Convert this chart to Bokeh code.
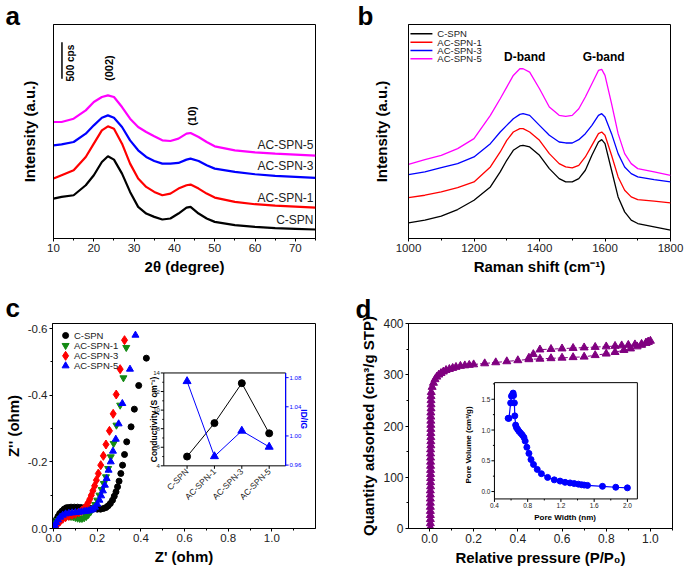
import math
from bokeh.plotting import figure
from bokeh.layouts import column, row
from bokeh.models import Range1d, SingleIntervalTicker, FixedTicker, PrintfTickFormatter
from bokeh.core.properties import value
from bokeh.embed import file_html
from bokeh.resources import INLINE

FONT = "Liberation Sans"
TICK_COLOR = "#222222"

# ---------------- data: (a) XRD ----------------
xrd_2theta = [10, 12, 15, 18, 20, 22, 23.5, 25, 27, 29, 31, 33, 35, 37, 39, 41, 43, 44, 46, 48, 50, 55, 60, 65, 70, 75]
xrd_cspn = [120, 125, 130, 160, 190, 230, 247, 237, 195, 140, 95, 75, 65, 57, 60, 75, 93, 95, 75, 60, 50, 40, 35, 31, 29, 27]
xrd_ac1 = [180, 190, 205, 245, 285, 325, 337, 330, 285, 225, 180, 155, 140, 130, 135, 150, 160, 162, 150, 135, 123, 110, 103, 99, 96, 93]
xrd_ac3 = [280, 283, 290, 315, 340, 363, 370, 363, 335, 295, 265, 245, 233, 225, 225, 227, 237, 240, 233, 220, 210, 200, 193, 188, 185, 182]
xrd_ac5 = [350, 350, 360, 385, 410, 425, 430, 425, 395, 360, 335, 320, 307, 295, 293, 300, 315, 317, 305, 290, 277, 265, 259, 255, 252, 249]
sample_names = ["C-SPN", "AC-SPN-1", "AC-SPN-3", "AC-SPN-5"]
xrd_label_y = [55, 123, 218, 280]
xrd_peak_names = ["(002)", "(10)"]
xrd_peak_x = [23.7, 44.4]
xrd_peak_y = [512, 368]

# ---------------- data: (b) Raman ----------------
raman_shift = [1000, 1050, 1100, 1150, 1200, 1250, 1280, 1300, 1320, 1340, 1350, 1370, 1400, 1430, 1460,
               1480, 1500, 1520, 1540, 1560, 1580, 1590, 1600, 1620, 1640, 1660, 1680, 1700, 1750, 1800]
raman_cspn = [47, 55, 67, 87, 115, 155, 200, 235, 265, 278, 280, 275, 250, 210, 180, 170, 170, 180, 205, 250, 290, 297, 285, 205, 125, 80, 55, 45, 35, 25]
raman_ac1 = [123, 130, 140, 153, 170, 215, 260, 295, 320, 330, 330, 320, 295, 255, 225, 215, 212, 220, 245, 280, 315, 320, 310, 250, 185, 145, 125, 117, 112, 107]
raman_ac3 = [192, 200, 213, 225, 245, 285, 320, 340, 360, 373, 375, 370, 340, 310, 290, 287, 287, 297, 315, 340, 370, 375, 365, 315, 255, 215, 195, 185, 177, 170]
raman_ac5 = [223, 237, 250, 270, 300, 370, 420, 455, 490, 510, 510, 500, 450, 395, 370, 367, 370, 390, 425, 465, 505, 508, 490, 405, 315, 255, 225, 210, 200, 190]
band_names = ["D-band", "G-band"]
band_x = [1355, 1596]
band_y = [545, 545]

# ---------------- data: (c) Nyquist ----------------
cspn_zr = [0.001, 0.003, 0.007, 0.013, 0.020, 0.028, 0.038, 0.048, 0.058, 0.068, 0.080, 0.095, 0.110, 0.125, 0.140,
           0.155, 0.170, 0.185, 0.200, 0.215, 0.228, 0.240, 0.250, 0.260, 0.270, 0.278, 0.286, 0.293, 0.300, 0.308,
           0.316, 0.325, 0.335, 0.355, 0.370, 0.390, 0.425]
cspn_zi = [-0.002, -0.008, -0.017, -0.027, -0.036, -0.045, -0.052, -0.058, -0.062, -0.063, -0.064, -0.064, -0.064, -0.063, -0.062,
           -0.061, -0.060, -0.059, -0.058, -0.058, -0.060, -0.063, -0.068, -0.075, -0.085, -0.097, -0.110, -0.125, -0.142, -0.165,
           -0.190, -0.222, -0.260, -0.305, -0.358, -0.429, -0.511]
ac1_zr = [0.002, 0.006, 0.012, 0.020, 0.030, 0.040, 0.050, 0.060, 0.070, 0.080, 0.090, 0.100, 0.110, 0.120, 0.130,
          0.140, 0.150, 0.160, 0.170, 0.180, 0.190, 0.200, 0.210, 0.220, 0.230, 0.240, 0.250, 0.262, 0.275, 0.288,
          0.305, 0.320, 0.333]
ac1_zi = [-0.004, -0.010, -0.017, -0.024, -0.030, -0.034, -0.036, -0.037, -0.037, -0.036, -0.035, -0.033, -0.031, -0.030, -0.030,
          -0.032, -0.036, -0.042, -0.050, -0.060, -0.072, -0.085, -0.100, -0.117, -0.135, -0.155, -0.180, -0.215, -0.255, -0.310,
          -0.370, -0.452, -0.543]
ac3_zr = [0.002, 0.006, 0.012, 0.020, 0.030, 0.042, 0.055, 0.070, 0.085, 0.100, 0.115, 0.128, 0.140, 0.150, 0.158,
          0.166, 0.173, 0.180, 0.188, 0.196, 0.205, 0.216, 0.228, 0.240, 0.256, 0.273, 0.287, 0.305, 0.325]
ac3_zi = [-0.001, -0.004, -0.009, -0.015, -0.022, -0.029, -0.034, -0.038, -0.041, -0.044, -0.048, -0.053, -0.060, -0.068, -0.077,
          -0.088, -0.100, -0.113, -0.128, -0.145, -0.165, -0.190, -0.218, -0.252, -0.293, -0.344, -0.402, -0.478, -0.565]
ac5_zr = [0.002, 0.006, 0.012, 0.020, 0.030, 0.042, 0.055, 0.070, 0.085, 0.100, 0.115, 0.128, 0.140, 0.150, 0.160,
          0.170, 0.180, 0.190, 0.200, 0.210, 0.218, 0.226, 0.235, 0.243, 0.252, 0.262, 0.272, 0.285, 0.298, 0.315,
          0.350, 0.375]
ac5_zi = [-0.004, -0.010, -0.018, -0.026, -0.034, -0.040, -0.044, -0.046, -0.047, -0.048, -0.049, -0.050, -0.051, -0.052, -0.053,
          -0.055, -0.058, -0.064, -0.073, -0.085, -0.098, -0.113, -0.130, -0.150, -0.175, -0.200, -0.232, -0.268, -0.314, -0.375,
          -0.478, -0.580]

# inset (c): conductivity and ID/IG
inset_cats = ["C-SPN", "AC-SPN-1", "AC-SPN-3", "AC-SPN-5"]
inset_cat_pos = [0, 1, 2, 3]
conductivity = [5.0, 8.6, 12.9, 7.5]
id_ig = [1.075, 0.972, 1.007, 0.985]
cond_ticks = [4, 6, 8, 10, 12, 14]
cond_minor = [5, 7, 9, 11, 13]
idig_ticks = [0.96, 1.00, 1.04, 1.08]
idig_tick_labels = ["0.96", "1.00", "1.04", "1.08"]

# ---------------- data: (d) N2 isotherm ----------------
ads_p = [0.004, 0.004, 0.004, 0.004, 0.004, 0.004, 0.004, 0.004, 0.004, 0.004,
         0.005, 0.005, 0.005, 0.005, 0.005, 0.005, 0.005, 0.005, 0.005, 0.005,
         0.006, 0.006, 0.006, 0.006, 0.006, 0.006, 0.006, 0.006, 0.006,
         0.007, 0.007, 0.007, 0.007,
         0.008, 0.012, 0.018, 0.025, 0.033, 0.042, 0.052, 0.063, 0.075, 0.090,
         0.105, 0.120, 0.140, 0.160, 0.180, 0.200, 0.250, 0.300, 0.350, 0.400,
         0.450, 0.500, 0.550, 0.600, 0.650, 0.700, 0.750, 0.800, 0.840, 0.880,
         0.910, 0.940, 0.960, 0.980, 0.990, 1.000]
ads_q = [2, 10, 18, 26, 34, 42, 50, 58, 66, 74, 82, 90, 98, 106, 114, 122, 130, 138, 146, 154,
         162, 170, 178, 186, 194, 202, 210, 218, 226, 234, 242, 250, 258,
         266, 276, 284, 291, 296, 300, 303, 306, 309, 311, 313, 315, 317, 318, 319, 320, 322, 324, 326, 328,
         330, 331, 332, 333, 334, 335, 338, 341, 344, 348, 351, 355, 358, 362, 364, 366]
des_p = [0.990, 0.980, 0.960, 0.930, 0.900, 0.870, 0.840, 0.800, 0.750, 0.700, 0.650, 0.600, 0.550, 0.500, 0.470, 0.450]
des_q = [364, 362, 360, 359, 358, 357, 356, 355, 354, 353, 352, 351, 350, 349, 340, 333]

# inset (d): pore size distribution
pore_width = [0.565, 0.575, 0.595, 0.605, 0.615, 0.625, 0.630, 0.640, 0.645, 0.655,
              0.665, 0.680, 0.695, 0.715, 0.735, 0.755, 0.770, 0.790, 0.815, 0.840,
              0.870, 0.915, 0.965, 1.040, 1.120, 1.190, 1.250, 1.310, 1.360, 1.410,
              1.450, 1.480, 1.520, 1.700, 1.860, 2.000]
pore_volume = [1.19, 1.19, 1.44, 1.55, 1.57, 1.60, 1.56, 1.44, 1.23, 1.08,
               1.04, 1.01, 0.98, 0.95, 0.92, 0.88, 0.82, 0.72, 0.62, 0.52,
               0.44, 0.36, 0.29, 0.23, 0.19, 0.17, 0.15, 0.14, 0.13, 0.12,
               0.11, 0.105, 0.10, 0.085, 0.07, 0.06]
pw_ticks = [0.4, 0.8, 1.2, 1.6, 2.0]
pw_minor = [0.6, 1.0, 1.4, 1.8]
pv_ticks = [0.0, 0.5, 1.0, 1.5]
pv_minor = [0.25, 0.75, 1.25, 1.75]

COLORS4 = ["#000000", "#FF0000", "#0000FF", "#FF00FF"]


def make_fig(width, height, x_range, y_range, left, right, top, bottom):
    p = figure(width=width, height=height, x_range=x_range, y_range=y_range,
               output_backend="svg", toolbar_location=None,
               min_border_left=left, min_border_right=right,
               min_border_top=top, min_border_bottom=bottom)
    p.grid.visible = False
    p.outline_line_color = "black"
    p.outline_line_width = 1
    p.background_fill_color = "white"
    p.border_fill_color = "white"
    for ax in list(p.xaxis) + list(p.yaxis):
        ax.axis_line_color = "black"
        ax.axis_line_width = 1
        ax.major_tick_in = 0
        ax.major_tick_out = 3
        ax.minor_tick_in = 0
        ax.minor_tick_out = 2
        ax.major_tick_line_color = "black"
        ax.minor_tick_line_color = "black"
        ax.major_label_text_font = FONT
        ax.major_label_text_font_size = "11.5px"
        ax.major_label_text_color = TICK_COLOR
        ax.major_label_standoff = 2
        ax.axis_label_text_font = FONT
        ax.axis_label_text_font_size = "15px"
        ax.axis_label_text_font_style = "bold"
        ax.axis_label_text_color = "black"
        ax.axis_label_standoff = 3
    return p


def letter(p, txt_, offset, standoff):
    t = p.title
    t.text = txt_
    t.align = "left"
    t.vertical_align = "bottom"
    t.offset = offset
    t.text_font = FONT
    t.text_font_size = "26px"
    t.text_font_style = "bold"
    t.text_color = "black"
    try:
        t.standoff = standoff
    except Exception:
        pass


def txt(target, x, y, text, size, color="black", bold=False, align="center", baseline="middle",
        angle=0.0, xoff=0, yoff=0):
    target.text(x=x, y=y, text=text, text_font=value(FONT), text_font_size=value(size),
                text_font_style="bold" if bold else "normal", text_color=color,
                text_align=align, text_baseline=baseline, angle=angle, x_offset=xoff, y_offset=yoff)


# ================= (a) =================
pa = make_fig(343, 290, Range1d(10, 75), Range1d(0, 643), 53, 28, 24, 52)
pa.xaxis.ticker = SingleIntervalTicker(interval=10, num_minor_ticks=2)
pa.xaxis.axis_label = "2θ (degree)"
pa.yaxis.ticker = FixedTicker(ticks=[])
pa.yaxis.major_tick_out = 0
pa.yaxis.minor_tick_out = 0
pa.yaxis.axis_label = "Intensity (a.u.)"
pa.yaxis.axis_label_standoff = 16
for ys, c in zip([xrd_cspn, xrd_ac1, xrd_ac3, xrd_ac5], COLORS4):
    pa.line(xrd_2theta, ys, line_color=c, line_width=2.2)
XRD_LABEL_X = 74.5
txt(pa, [XRD_LABEL_X] * 4, xrd_label_y, sample_names, "12px", color="#222222", align="right")
txt(pa, xrd_peak_x, xrd_peak_y, xrd_peak_names, "11px", bold=True, angle=math.pi / 2)
SCALE_X, SCALE_Y0, SCALE_Y1 = 12.1, 480, 590   # 500 cps scale bar
pa.segment(x0=[SCALE_X], y0=[SCALE_Y0], x1=[SCALE_X], y1=[SCALE_Y1], line_color="black", line_width=1.5)
txt(pa, [14.3], [527], ["500 cps"], "10px", bold=True, angle=math.pi / 2)
letter(pa, "a", -48, -13)

# ================= (b) =================
pb = make_fig(342, 290, Range1d(1000, 1800), Range1d(0, 643), 65, 15, 24, 52)
pb.xaxis.ticker = SingleIntervalTicker(interval=200, num_minor_ticks=2)
pb.xaxis.axis_label = "Raman shift (cm⁻¹)"
pb.yaxis.ticker = FixedTicker(ticks=[])
pb.yaxis.major_tick_out = 0
pb.yaxis.minor_tick_out = 0
pb.yaxis.axis_label = "Intensity (a.u.)"
pb.yaxis.axis_label_standoff = 19
for ys, c in zip([raman_cspn, raman_ac1, raman_ac3, raman_ac5], COLORS4):
    pb.line(raman_shift, ys, line_color=c, line_width=1.3)
txt(pb, band_x, band_y, band_names, "12px", bold=True)
# legend (b)
LEG_B_X0, LEG_B_X1, LEG_B_TX = 1006, 1073, 1088
leg_b_y = [615, 590, 565, 540]
pb.segment(x0=[LEG_B_X0] * 4, y0=leg_b_y, x1=[LEG_B_X1] * 4, y1=leg_b_y, line_color=COLORS4, line_width=1.5)
txt(pb, [LEG_B_TX] * 4, leg_b_y, sample_names, "9.5px", color="#222222", align="left")
letter(pb, "b", -51, -13)

# ================= (c) =================
pc = make_fig(343, 280, Range1d(-0.005, 1.2), Range1d(0, -0.615), 52, 28, 32, 42)
pc.xaxis.ticker = SingleIntervalTicker(interval=0.2, num_minor_ticks=2)
pc.yaxis.ticker = SingleIntervalTicker(interval=0.2, num_minor_ticks=2)
pc.xaxis.formatter = PrintfTickFormatter(format="%.1f")
pc.yaxis.formatter = PrintfTickFormatter(format="%.1f")
pc.xaxis.axis_label = "Z' (ohm)"
pc.yaxis.axis_label = "Z'' (ohm)"
C_GREEN = "#138A13"
pc.scatter(cspn_zr, cspn_zi, marker="circle", size=6, color="black")
pc.scatter(ac1_zr, ac1_zi, marker="inverted_triangle", size=7, color=C_GREEN)
pc.scatter(ac3_zr, ac3_zi, marker="diamond", size=9, color="#FF0000")
pc.scatter(ac5_zr, ac5_zi, marker="triangle", size=7, color="#0000FF")
# legend (c)
LEG_C_MX, LEG_C_TX = 0.055, 0.093
leg_c_y = [-0.579, -0.549, -0.518, -0.488]
leg_markers = ["circle", "inverted_triangle", "diamond", "triangle"]
leg_sizes = [6, 7, 9, 7]
leg_colors = ["black", C_GREEN, "#FF0000", "#0000FF"]
for yy, mk, sz, cl in zip(leg_c_y, leg_markers, leg_sizes, leg_colors):
    pc.scatter([LEG_C_MX], [yy], marker=mk, size=sz, color=cl)
txt(pc, [LEG_C_TX] * 4, leg_c_y, sample_names, "9.5px", color="#222222", align="left")
letter(pc, "c", -47, 1)

# inset (c)
CI_X = Range1d(-0.85, 3.6)
CI_TX = Range1d(0.505, 1.063)
CI_TY = Range1d(-0.188, -0.4666)
sub_cond = pc.subplot(x_source=CI_X, y_source=Range1d(4, 14), x_target=CI_TX, y_target=CI_TY)
sub_idig = pc.subplot(x_source=CI_X, y_source=Range1d(0.959, 1.0864), x_target=CI_TX, y_target=CI_TY)
sub_cond.quad(left=[-0.85], right=[3.6], bottom=[4], top=[14], fill_color="white", line_color="black", line_width=1)
sub_cond.segment(x0=[3.6], y0=[4], x1=[3.6], y1=[14], line_color="#0000FF", line_width=1.2)
sub_cond.ray(x=[-0.85] * 6, y=cond_ticks, length=3, length_units="screen", angle=math.pi, line_color="black")
sub_cond.ray(x=[-0.85] * 5, y=cond_minor, length=1.5, length_units="screen", angle=math.pi, line_color="black")
txt(sub_cond, [-0.85] * 6, cond_ticks, [str(t) for t in cond_ticks], "6px", color=TICK_COLOR, align="right", xoff=-4)
sub_cond.ray(x=inset_cat_pos, y=[4] * 4, length=3, length_units="screen", angle=-math.pi / 2, line_color="black")
txt(sub_cond, inset_cat_pos, [3.55] * 4, inset_cats, "8.5px", color=TICK_COLOR, align="right", angle=math.pi / 4)
txt(sub_cond, [-1.22], [9.0], ["Conductivity (S cm⁻¹)"], "8.5px", bold=True, angle=math.pi / 2)
sub_idig.ray(x=[3.6] * 4, y=idig_ticks, length=3, length_units="screen", angle=0, line_color="#0000FF")
txt(sub_idig, [3.6] * 4, idig_ticks, idig_tick_labels, "6px", color="#0000FF", align="left", xoff=4)
txt(sub_idig, [4.28], [1.023], ["ID/IG"], "8.5px", color="#0000FF", bold=True, angle=-math.pi / 2)
sub_cond.line(inset_cat_pos, conductivity, line_color="black", line_width=1)
sub_cond.scatter(inset_cat_pos, conductivity, marker="circle", size=7, color="black")
sub_idig.line(inset_cat_pos, id_ig, line_color="#0000FF", line_width=1)
sub_idig.scatter(inset_cat_pos, id_ig, marker="triangle", size=8, color="#0000FF")

# ================= (d) =================
pd_ = make_fig(342, 280, Range1d(-0.095, 1.1), Range1d(0, 400), 65, 13, 30, 42)
pd_.xaxis.ticker = SingleIntervalTicker(interval=0.2, num_minor_ticks=2)
pd_.yaxis.ticker = SingleIntervalTicker(interval=100, num_minor_ticks=2)
pd_.xaxis.formatter = PrintfTickFormatter(format="%.1f")
pd_.xaxis.major_label_text_font_size = "12px"
pd_.yaxis.major_label_text_font_size = "12px"
pd_.xaxis.axis_label = "Relative pressure (P/P₀)"
pd_.yaxis.axis_label = "Quantity adsorbed (cm³/g STP)"
PURPLE = "#800080"
pd_.line(ads_p, ads_q, line_color=PURPLE, line_width=1, line_dash="4 2")
pd_.line(des_p, des_q, line_color=PURPLE, line_width=1, line_dash="4 2")
pd_.scatter(ads_p, ads_q, marker="triangle", size=8, color=PURPLE)
pd_.scatter(des_p, des_q, marker="triangle", size=8, color=PURPLE)
letter(pd_, "d", -53, -1)

# inset (d)
DI_XS = Range1d(0.4, 2.12)
DI_YS = Range1d(-0.12, 1.77)
sub_d = pd_.subplot(x_source=DI_XS, y_source=DI_YS, x_target=Range1d(0.294, 0.941), y_target=Range1d(57.7, 284.6))
sub_d.quad(left=[0.4], right=[2.12], bottom=[-0.12], top=[1.77], fill_color="white", line_color="black", line_width=1)
sub_d.ray(x=pw_ticks, y=[-0.12] * 5, length=3, length_units="screen", angle=-math.pi / 2, line_color="black")
sub_d.ray(x=pw_minor, y=[-0.12] * 4, length=1.5, length_units="screen", angle=-math.pi / 2, line_color="black")
sub_d.ray(x=[0.4] * 4, y=pv_ticks, length=3, length_units="screen", angle=math.pi, line_color="black")
sub_d.ray(x=[0.4] * 4, y=pv_minor, length=1.5, length_units="screen", angle=math.pi, line_color="black")
txt(sub_d, pw_ticks, [-0.12] * 5, ["%.1f" % t for t in pw_ticks], "6.5px", color=TICK_COLOR, baseline="top", yoff=4)
txt(sub_d, [0.4] * 4, pv_ticks, ["%.1f" % t for t in pv_ticks], "6.5px", color=TICK_COLOR, align="right", xoff=-4)
txt(sub_d, [1.25], [-0.42], ["Pore Width (nm)"], "8px", bold=True)
txt(sub_d, [0.084], [0.757], ["Pore Volume (cm³/g)"], "8px", bold=True, angle=math.pi / 2)
sub_d.line(pore_width, pore_volume, line_color="#0000FF", line_width=1.2)
sub_d.scatter(pore_width, pore_volume, marker="circle", size=6, color="#0000FF")

layout = column(row(pa, pb), row(pc, pd_))
open("out.html", "w").write(file_html(layout, INLINE, title="Figure"))
